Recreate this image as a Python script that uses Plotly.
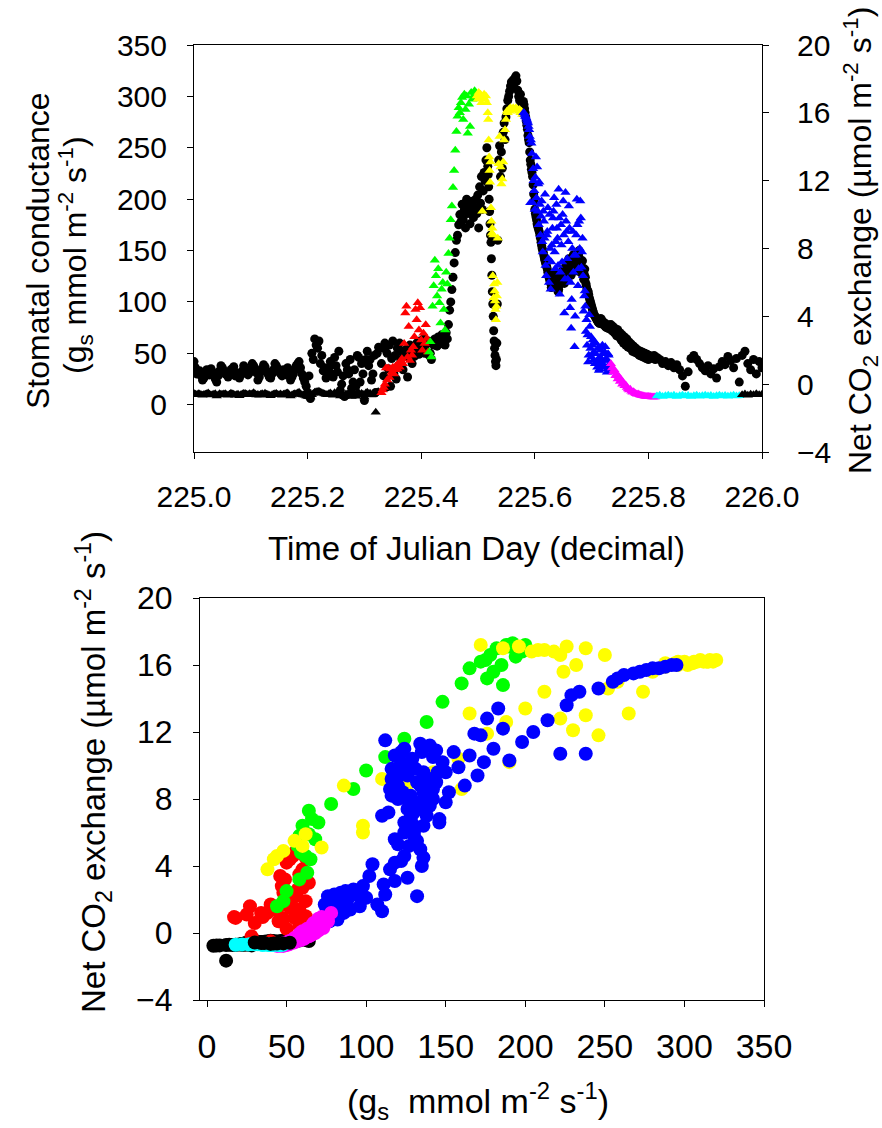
import numpy as np
import plotly.graph_objects as go

# ---------------------------------------------------------------------------
# Logger readings for Julian day 225, split into the colour-coded periods.
# Each period: (start, end) time, stomatal conductance gs (mmol m-2 s-1),
# net CO2 exchange (umol m-2 s-1). Readings are evenly spaced in each period.
# ---------------------------------------------------------------------------
T_NIGHT_A = (225.000, 225.325)
GS_NIGHT_A = [42, 36, 30, 32, 33, 28, 24, 26, 28, 34, 31, 29, 35, 32, 29, 25, 22, 28, 33, 38,
              36, 33, 30, 29, 27, 31, 34, 35, 37, 28, 31, 30, 26, 29, 33, 38, 36, 32, 29, 31,
              34, 40, 38, 35, 31, 24, 27, 32, 35, 39, 37, 33, 30, 27, 26, 30, 34, 40, 38, 35,
              32, 30, 28, 34, 33, 29, 36, 30, 24, 27, 30, 34, 38, 40, 42, 36, 30, 26, 22, 18,
              12, 28, 6, 50, 44, 64, 58, 55, 62, 40, 48, 33, 36, 26, 30, 36, 42, 30, 27, 46,
              38, 32, 52, 14, 20, 28, 8, 40, 34, 30, 44, 16, 22, 34, 18, 48, 46, 22, 40, 30,
              4, 44, 52, 38, 44, 24, 30, 48, 12, 50, 56]
CO2_NIGHT_A = [-0.55, -0.60, -0.62, -0.57, -0.58, -0.63, -0.66, -0.61, -0.60, -0.56,
               -0.52, -0.59, -0.64, -0.62, -0.59, -0.57, -0.70, -0.64, -0.56, -0.60,
               -0.61, -0.58, -0.57, -0.63, -0.65, -0.60, -0.54, -0.58, -0.60, -0.66,
               -0.63, -0.59, -0.68, -0.62, -0.58, -0.55, -0.55, -0.60, -0.62, -0.57,
               -0.60, -0.56, -0.50, -0.58, -0.64, -0.61, -0.66, -0.59, -0.57, -0.62,
               -0.53, -0.60, -0.61, -0.65, -0.69, -0.63, -0.59, -0.56, -0.55, -0.61,
               -0.62, -0.58, -0.65, -0.60, -0.58, -0.54, -0.52, -0.62, -0.70, -0.64,
               -0.60, -0.57, -0.56, -0.52, -0.48, -0.58, -0.62, -0.64, -0.66, -0.70,
               -0.72, -0.74, -0.75, -0.62, -0.55, -0.48, -0.45, -0.44, -0.42, -0.47,
               -0.50, -0.55, -0.58, -0.61, -0.63, -0.57, -0.52, -0.60, -0.66, -0.50,
               -0.57, -0.52, -0.47, -0.70, -0.68, -0.62, -0.74, -0.58, -0.60, -0.55,
               -0.52, -0.72, -0.69, -0.60, -0.71, -0.48, -0.50, -0.66, -0.55, -0.60,
               -0.76, -0.52, -0.48, -0.56, -0.53, -0.64, -0.62, -0.50, -1.65, -0.46,
               -0.44]

T_RED = (225.330, 225.412)
GS_RED = [40, 55, 28, 60, 17, 50, 35, 58, 18, 45,
          62, 30, 48, 25, 55, 38, 60, 44, 52, 34,
          48, 50, 54, 27, 46, 58, 50, 40, 56, 47,
          52, 60, 55, 49, 62, 57, 53, 64, 50, 58,
          60, 62]
CO2_RED = [-0.50, -0.35, -0.20, 0.00, 0.95, 0.25, 0.95, 0.40, 0.90, 0.70,
           1.00, 0.60, 0.85, 1.10, 0.90, 1.20, 1.00, 1.35, 1.50, 1.20,
           2.40, 4.20, 4.60, 1.60, 3.40, 1.40, 2.00, 1.70, 2.20, 2.80,
           4.40, 3.80, 4.80, 3.20, 4.50, 2.60, 2.00, 3.00, 2.40, 3.50,
           2.70, 1.90]

T_GREEN = (225.414, 225.496)
GS_GREEN = [48, 50, 44, 62, 58, 64, 60, 57, 66, 59,
            63, 68, 61, 65, 58, 70, 64, 78, 92, 100,
            112, 124, 138, 148, 160, 165, 175, 185, 178, 195,
            180, 190, 172, 200, 186, 194, 176, 188, 198, 182,
            192, 200]
CO2_GREEN = [1.9, 2.5, 1.6, 4.6, 5.8, 7.3, 6.4, 5.2, 6.8, 4.8,
             3.6, 5.6, 6.0, 4.4, 3.2, 6.6, 5.9, 7.7, 8.6, 9.7,
             10.5, 11.6, 12.6, 13.8, 14.9, 15.8, 16.3, 16.0, 16.6, 16.9,
             15.6, 17.1, 16.2, 17.0, 14.8, 16.5, 15.2, 17.2, 16.8, 17.0,
             17.3, 17.2]

# yellow period: plateau, the short cloud-induced dip (logged faster), recovery
T_YELLOW_A = (225.498, 225.5172)
GS_YELLOW_A = [186, 204, 172, 212, 196, 222, 190, 208, 226, 218, 238, 250, 232]
CO2_YELLOW_A = [17.0, 16.8, 17.2, 16.9, 17.1, 16.6, 10.2, 16.9, 17.1, 16.8, 17.0, 16.6, 16.0]

T_YELLOW_DIP = (225.518, 225.534)
GS_YELLOW_DIP = [224, 212, 200, 188, 176, 165, 158, 142, 126, 110,
                 98, 86, 72, 62, 55, 48, 42, 38, 44, 60, 98]
CO2_YELLOW_DIP = [15.6, 14.4, 13.4, 12.6, 11.9, 13.1, 10.4, 9.6, 8.9, 9.2,
                  6.4, 8.8, 5.1, 5.9, 5.5, 4.9, 4.4, 3.8, 4.6, 5.2, 6.0]

T_YELLOW_B = (225.5348, 225.578)
GS_YELLOW_B = [160, 238, 252, 222, 246, 230, 265, 274, 258, 280,
               288, 296, 300, 305, 310, 314, 308, 316, 312, 318,
               320, 315, 306, 300, 296, 302, 294, 288]
CO2_YELLOW_B = [8.6, 13.0, 14.6, 12.8, 11.8, 12.1, 13.1, 14.4, 15.0, 15.6,
                16.1, 16.0, 16.2, 16.1, 16.3, 16.2, 16.2, 16.3, 16.2, 16.2,
                16.3, 16.2, 16.2, 16.1, 16.2, 16.0, 16.1, 15.9]

T_BLUE = (225.580, 225.732)
GS_BLUE = [295, 292, 288, 284, 280, 276, 272, 268, 262, 258,
           255, 246, 238, 234, 229, 226, 222, 214, 205, 198,
           190, 186, 183, 180, 176, 174, 172, 170, 168, 165,
           162, 158, 155, 152, 150, 148, 145, 142, 140, 138,
           136, 134, 132, 129, 126, 124, 122, 120, 118, 114,
           116, 119, 120, 122, 124, 127, 128, 123, 118, 116,
           115, 110, 112, 116, 120, 124, 126, 128, 130, 126,
           122, 120, 118, 128, 134, 136, 138, 132, 128, 136,
           142, 140, 136, 130, 126, 134, 140, 144, 146, 140,
           132, 135, 138, 142, 144, 136, 130, 146, 150, 142,
           135, 131, 128, 134, 140, 130, 122, 127, 132, 124,
           118, 115, 112, 111, 110, 107, 104, 102, 100, 98,
           96, 94, 92, 90, 88, 87, 86, 85, 84, 83,
           82, 81, 80, 82, 79, 81, 84, 83, 82, 80,
           78, 79, 80, 78, 76, 77, 75, 77, 78, 76,
           74, 75, 76]
CO2_BLUE = [16.0, 16.0, 15.9, 15.8, 15.8, 15.7, 15.6, 15.5, 15.4, 15.2,
            15.0, 14.6, 10.7, 14.4, 14.2, 13.6, 10.7, 12.7, 12.0, 11.4,
            10.3, 12.2, 13.4, 11.0, 12.8, 10.2, 11.8, 9.4, 11.9, 10.6,
            8.8, 9.9, 10.8, 8.4, 7.8, 10.2, 9.6, 8.6, 11.2, 7.0,
            6.4, 8.8, 9.0, 10.4, 7.4, 6.0, 10.0, 8.0, 5.6, 7.2,
            8.2, 9.2, 9.8, 10.2, 11.0, 7.8, 6.8, 8.4, 10.6, 9.2,
            8.6, 7.0, 11.5, 9.8, 5.3, 6.6, 9.4, 8.2, 7.2, 10.0,
            10.8, 8.8, 4.2, 6.2, 11.3, 9.6, 9.0, 7.4, 6.2, 8.4,
            10.5, 9.2, 4.5, 6.0, 3.3, 5.0, 8.0, 9.0, 6.6, 7.6,
            2.2, 4.0, 7.6, 8.8, 10.9, 9.4, 5.8, 6.8, 9.6, 8.0,
            10.8, 9.8, 6.9, 7.8, 8.6, 6.4, 4.3, 5.2, 5.5, 4.6,
            3.1, 3.8, 2.3, 2.9, 1.3, 1.7, 4.1, 3.4, 2.1, 2.8,
            1.6, 2.3, 2.6, 1.4, 1.9, 2.5, 1.2, 1.8, 2.4, 1.3,
            1.0, 2.1, 1.5, 0.8, 0.9, 1.6, 2.0, 1.2, 1.4, 2.3,
            1.8, 1.0, 1.1, 1.9, 2.2, 1.4, 1.5, 0.7, 0.9, 1.8,
            1.7, 1.1, 1.2]

T_MAGENTA = (225.734, 225.812)
GS_MAGENTA = [78, 72, 76, 70, 74, 67, 73, 66, 70, 63,
              68, 60, 66, 58, 64, 56, 61, 55, 59, 52,
              57, 51, 55, 50, 53, 48, 52, 47, 51, 46,
              50, 45, 49, 44, 48, 46, 47, 45, 48, 44]
CO2_MAGENTA = [1.20, 0.95, 0.70, 0.85, 0.50, 0.60, 0.30, 0.45, 0.15, 0.25,
               0.00, 0.10, -0.10, -0.05, -0.20, -0.28, -0.35, -0.30, -0.42, -0.48,
               -0.45, -0.52, -0.56, -0.60, -0.58, -0.62, -0.65, -0.67, -0.69, -0.70,
               -0.71, -0.72, -0.72, -0.73, -0.74, -0.74, -0.75, -0.75, -0.76, -0.76]

T_CYAN = (225.815, 225.960)
GS_CYAN = [46, 44, 40, 42, 38, 41, 36, 39, 34, 28,
           18, 32, 45, 48, 44, 40, 36, 33, 38, 30,
           35, 26, 37, 42, 39, 47, 43, 36, 45, 22]
CO2_CYAN = [-0.70, -0.66, -0.72, -0.68, -0.65, -0.70, -0.66, -0.72, -0.68, -0.65,
            -0.70, -0.67, -0.72, -0.69, -0.66, -0.71, -0.68, -0.65, -0.70, -0.67,
            -0.72, -0.68, -0.66, -0.70, -0.67, -0.71, -0.68, -0.66, -0.70, -0.68]

T_NIGHT_B = (225.965, 226.000)
GS_NIGHT_B = [48, 52, 40, 34, 44, 30, 42, 36]
CO2_NIGHT_B = [-0.62, -0.58, -0.65, -0.60, -0.63, -0.57, -0.62, -0.60]

PERIODS = [
    (T_NIGHT_A, GS_NIGHT_A, CO2_NIGHT_A, "#000000"),
    (T_RED, GS_RED, CO2_RED, "#ff0000"),
    (T_GREEN, GS_GREEN, CO2_GREEN, "#00ff00"),
    (T_YELLOW_A, GS_YELLOW_A, CO2_YELLOW_A, "#ffff00"),
    (T_YELLOW_DIP, GS_YELLOW_DIP, CO2_YELLOW_DIP, "#ffff00"),
    (T_YELLOW_B, GS_YELLOW_B, CO2_YELLOW_B, "#ffff00"),
    (T_BLUE, GS_BLUE, CO2_BLUE, "#0000ff"),
    (T_MAGENTA, GS_MAGENTA, CO2_MAGENTA, "#ff00ff"),
    (T_CYAN, GS_CYAN, CO2_CYAN, "#00ffff"),
    (T_NIGHT_B, GS_NIGHT_B, CO2_NIGHT_B, "#000000"),
]

TIME_TICKS = [225.0, 225.2, 225.4, 225.6, 225.8, 226.0]
GS_TICKS = [0, 50, 100, 150, 200, 250, 300, 350]
CO2_TICKS = [-4, 0, 4, 8, 12, 16, 20]

W, H = 882, 1128
FONT = "Liberation Sans, Arial, sans-serif"


def fx(px):
    return px / W


def fy(px):
    return 1 - px / H


fig = go.Figure()

times_all, gs_all = [], []
for (t0, t1), gs, _, _ in PERIODS:
    times_all.extend(np.linspace(t0, t1, len(gs)))
    gs_all.extend(gs)

# stomatal conductance against time (left axis, drawn underneath)
fig.add_trace(go.Scatter(
    x=times_all, y=gs_all, xaxis="x", yaxis="y", mode="markers",
    marker=dict(symbol="circle", size=9, color="#000000", line=dict(width=0)),
    showlegend=False, hoverinfo="skip"))

for (t0, t1), gs, co2, color in PERIODS:
    t = np.linspace(t0, t1, len(gs))
    # net CO2 exchange against time (right axis)
    fig.add_trace(go.Scatter(
        x=t, y=co2, xaxis="x", yaxis="y2", mode="markers",
        marker=dict(symbol="triangle-up", size=9, color=color, line=dict(width=0)),
        showlegend=False, hoverinfo="skip"))
    # net CO2 exchange against conductance (lower panel)
    fig.add_trace(go.Scatter(
        x=gs, y=co2, xaxis="x2", yaxis="y3", mode="markers",
        marker=dict(symbol="circle", size=14, color=color, line=dict(width=0)),
        showlegend=False, hoverinfo="skip"))

axis_common = dict(showgrid=False, zeroline=False, showline=True, linecolor="#000000",
                   linewidth=1, ticks="outside", ticklen=6, tickcolor="#000000",
                   tickwidth=1, automargin=False)

fig.update_layout(
    width=W, height=H,
    margin=dict(l=0, r=0, t=0, b=0, pad=0),
    paper_bgcolor="white", plot_bgcolor="white",
    font=dict(family=FONT, color="#000000"),
    xaxis=dict(domain=[fx(194), fx(762)], anchor="y", range=[225.0, 226.0],
               tickvals=TIME_TICKS, ticktext=[f"{v:.1f}" for v in TIME_TICKS],
               tickfont=dict(size=30), mirror=True, ticklabelstandoff=12,
               **axis_common),
    yaxis=dict(domain=[fy(452), fy(45)], anchor="x", side="left", range=[-46, 350],
               tickvals=GS_TICKS, tickfont=dict(size=30), ticklabelstandoff=14,
               **axis_common),
    yaxis2=dict(overlaying="y", anchor="x", side="right", range=[-4, 20],
                tickvals=CO2_TICKS, tickfont=dict(size=30), ticklabelstandoff=22,
                **axis_common),
    xaxis2=dict(domain=[fx(200), fx(764)], anchor="y3", range=[-4.4, 350],
                tickvals=GS_TICKS, tickfont=dict(size=34), mirror=True,
                ticklabelstandoff=10, **axis_common),
    yaxis3=dict(domain=[fy(1000), fy(598)], anchor="x2", range=[-4, 20],
                tickvals=CO2_TICKS, tickfont=dict(size=32), mirror=True,
                ticklabelstandoff=14, **axis_common),
)

title_font = dict(family=FONT, size=32, color="#000000")
annotations = [
    dict(text="Time of Julian Day (decimal)", x=fx(476), y=fy(548), textangle=0,
         font=dict(family=FONT, size=33, color="#000000")),
    dict(text="Stomatal conductance", x=fx(38), y=fy(251), textangle=-90),
    dict(text="(g<sub>s</sub> mmol m<sup>-2</sup> s<sup>-1</sup>)", x=fx(75), y=fy(255),
         textangle=-90),
    dict(text="Net CO<sub>2</sub> exchange (\u00b5mol m<sup>-2</sup> s<sup>-1</sup>)",
         x=fx(861), y=fy(241), textangle=-90),
    dict(text="(g<sub>s</sub>\u00a0\u00a0mmol m<sup>-2</sup> s<sup>-1</sup>)",
         x=fx(478), y=fy(1101), textangle=0, font=dict(family=FONT, size=34, color="#000000")),
    dict(text="Net CO<sub>2</sub> exchange (\u00b5mol m<sup>-2</sup> s<sup>-1</sup>)",
         x=fx(93), y=fy(772), textangle=-90, font=dict(family=FONT, size=33, color="#000000")),
]
for a in annotations:
    a.setdefault("font", title_font)
    fig.add_annotation(xref="paper", yref="paper", showarrow=False,
                       xanchor="center", yanchor="middle", **a)

fig.write_html("out.html")
